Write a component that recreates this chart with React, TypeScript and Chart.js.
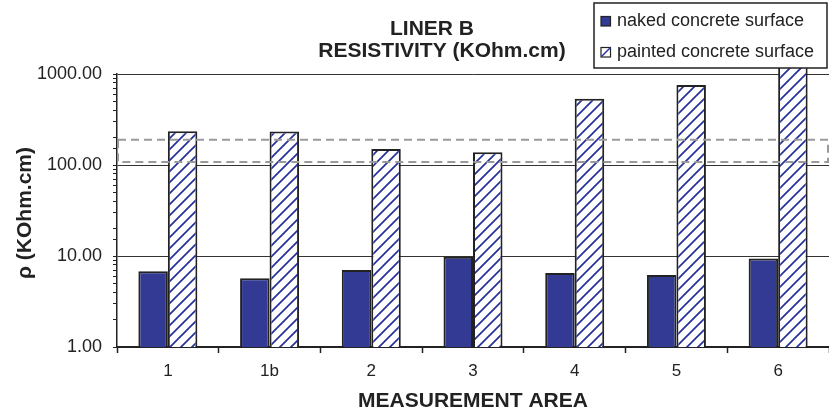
import React, { useEffect, useRef } from 'react';
import { Chart, registerables } from 'chart.js';
Chart.register(...registerables);

const categories = ['1', '1b', '2', '3', '4', '5', '6'];
const nakedValues = [6.8, 5.7, 7.0, 9.8, 6.5, 6.2, 9.4];
const paintedValues = [235, 233, 150, 138, 535, 757, 1250];
const seriesNames = ['naked concrete surface', 'painted concrete surface'];
const yMajorTicks = [1, 10, 100, 1000];
const titleLines = ['LINER B', 'RESISTIVITY (KOhm.cm)'];
const xTitle = 'MEASUREMENT AREA';
const yTitle = 'ρ (KOhm.cm)';
const bandRange = [108, 190];

const FONT = "'Liberation Sans', Arial, Helvetica, sans-serif";
const NAVY = '#323a93';
const HATCH = '#26309c';
const DARK = '#222222';

function makeHatch(): CanvasPattern | string {
  const c = document.createElement('canvas');
  const s = 11;
  c.width = s;
  c.height = s;
  const g = c.getContext('2d');
  if (!g) return '#fff';
  g.fillStyle = '#ffffff';
  g.fillRect(0, 0, s, s);
  g.strokeStyle = HATCH;
  g.lineWidth = 1.7;
  g.beginPath();
  g.moveTo(-1, s + 1);
  g.lineTo(s + 1, -1);
  g.moveTo(-2, 2);
  g.lineTo(2, -2);
  g.moveTo(s - 2, s + 2);
  g.lineTo(s + 2, s - 2);
  g.stroke();
  const p = g.createPattern(c, 'repeat');
  return p || '#fff';
}

const isMajor = (v: number) => yMajorTicks.some((m) => Math.abs(m - v) < 1e-6);

const overlay = {
  id: 'overlay',
  afterDatasetsDraw(chart: any) {
    const { ctx, chartArea } = chart;
    const y = chart.scales.y;
    const yTop = y.getPixelForValue(bandRange[1]);
    const yBot = y.getPixelForValue(bandRange[0]);
    ctx.save();
    ctx.strokeStyle = '#9a9a9a';
    ctx.lineWidth = 2;
    ctx.setLineDash([8, 5]);
    ctx.strokeRect(chartArea.left + 1, yTop, chartArea.right - chartArea.left - 2, yBot - yTop);
    ctx.restore();
  },
  afterDraw(chart: any) {
    const { ctx, chartArea } = chart;
    ctx.save();
    ctx.fillStyle = DARK;
    ctx.font = `bold 21px ${FONT}`;
    ctx.textAlign = 'center';
    ctx.textBaseline = 'alphabetic';
    ctx.fillText(titleLines[0], 432, 34.5);
    ctx.fillText(titleLines[1], 442, 56.5);
    ctx.fillText(xTitle, (chartArea.left + chartArea.right) / 2, 407);
    ctx.save();
    ctx.translate(30.5, 213);
    ctx.rotate(-Math.PI / 2);
    ctx.fillText(yTitle, 0, 0);
    ctx.restore();

    const lx = 594, ly = 3, lw = 233, lh = 65;
    ctx.fillStyle = '#ffffff';
    ctx.fillRect(lx, ly, lw, lh);
    ctx.strokeStyle = DARK;
    ctx.lineWidth = 1.5;
    ctx.strokeRect(lx, ly, lw, lh);
    ctx.fillStyle = NAVY;
    ctx.fillRect(601, 16.5, 9.5, 9.5);
    ctx.lineWidth = 1.2;
    ctx.strokeRect(601, 16.5, 9.5, 9.5);
    ctx.fillStyle = '#ffffff';
    ctx.fillRect(601, 47.5, 9.5, 9.5);
    ctx.strokeStyle = DARK;
    ctx.strokeRect(601, 47.5, 9.5, 9.5);
    ctx.strokeStyle = HATCH;
    ctx.lineWidth = 1.4;
    ctx.beginPath();
    ctx.moveTo(601.5, 56.5);
    ctx.lineTo(610.5, 47.5);
    ctx.stroke();
    ctx.fillStyle = DARK;
    ctx.font = `18px ${FONT}`;
    ctx.textAlign = 'left';
    ctx.textBaseline = 'middle';
    ctx.fillText(seriesNames[0], 617, 21.5);
    ctx.fillText(seriesNames[1], 617, 52.5);
    ctx.restore();
  },
};

export default function App() {
  const ref = useRef<HTMLCanvasElement | null>(null);
  useEffect(() => {
    document.body.style.margin = '0';
    if (!ref.current) return;
    const hatch = makeHatch();
    const chart = new Chart(ref.current, {
      type: 'bar',
      data: {
        labels: categories,
        datasets: [
          {
            label: seriesNames[0],
            data: nakedValues,
            backgroundColor: NAVY,
            borderColor: DARK,
            borderWidth: 2,
            categoryPercentage: 0.58,
            barPercentage: 1,
            clip: false as any,
          },
          {
            label: seriesNames[1],
            data: paintedValues,
            backgroundColor: hatch as any,
            borderColor: DARK,
            borderWidth: 2,
            categoryPercentage: 0.58,
            barPercentage: 1,
            clip: false as any,
          },
        ],
      },
      options: {
        responsive: false,
        animation: false,
        devicePixelRatio: 1,
        layout: { padding: { top: 74, left: 0, right: 0, bottom: 0 } },
        plugins: {
          legend: { display: false },
          title: { display: false },
          tooltip: { enabled: false },
        },
        scales: {
          x: {
            type: 'category',
            offset: true,
            grid: {
              offset: true,
              drawOnChartArea: false,
              drawTicks: true,
              tickLength: 6,
              color: DARK,
              tickWidth: 1.5,
            },
            border: { display: true, color: DARK, width: 2 },
            ticks: {
              color: DARK,
              font: { family: FONT, size: 17 },
              padding: 8,
              maxRotation: 0,
              autoSkip: false,
            },
            afterFit: (s: any) => {
              s.height = 68;
            },
          },
          y: {
            type: 'logarithmic',
            min: 1,
            max: 1000,
            grid: {
              color: (c: any) => (c.tick && isMajor(c.tick.value) ? '#333333' : 'rgba(0,0,0,0)'),
              tickColor: DARK,
              tickLength: 4,
              lineWidth: 1,
              drawTicks: true,
            },
            border: { display: true, color: DARK, width: 1.5 },
            ticks: {
              color: DARK,
              font: { family: FONT, size: 18 },
              padding: 11,
              autoSkip: false,
              callback: (v: any) => (isMajor(Number(v)) ? Number(v).toFixed(2) : ''),
            },
            afterFit: (s: any) => {
              s.width = 117;
            },
          },
        },
      },
      plugins: [overlay],
    });
    return () => chart.destroy();
  }, []);
  return (
    <div style={{ position: 'absolute', left: 0, top: 0, width: 829, height: 415 }}>
      <canvas ref={ref} width={829} height={415} style={{ display: 'block' }} />
    </div>
  );
}
